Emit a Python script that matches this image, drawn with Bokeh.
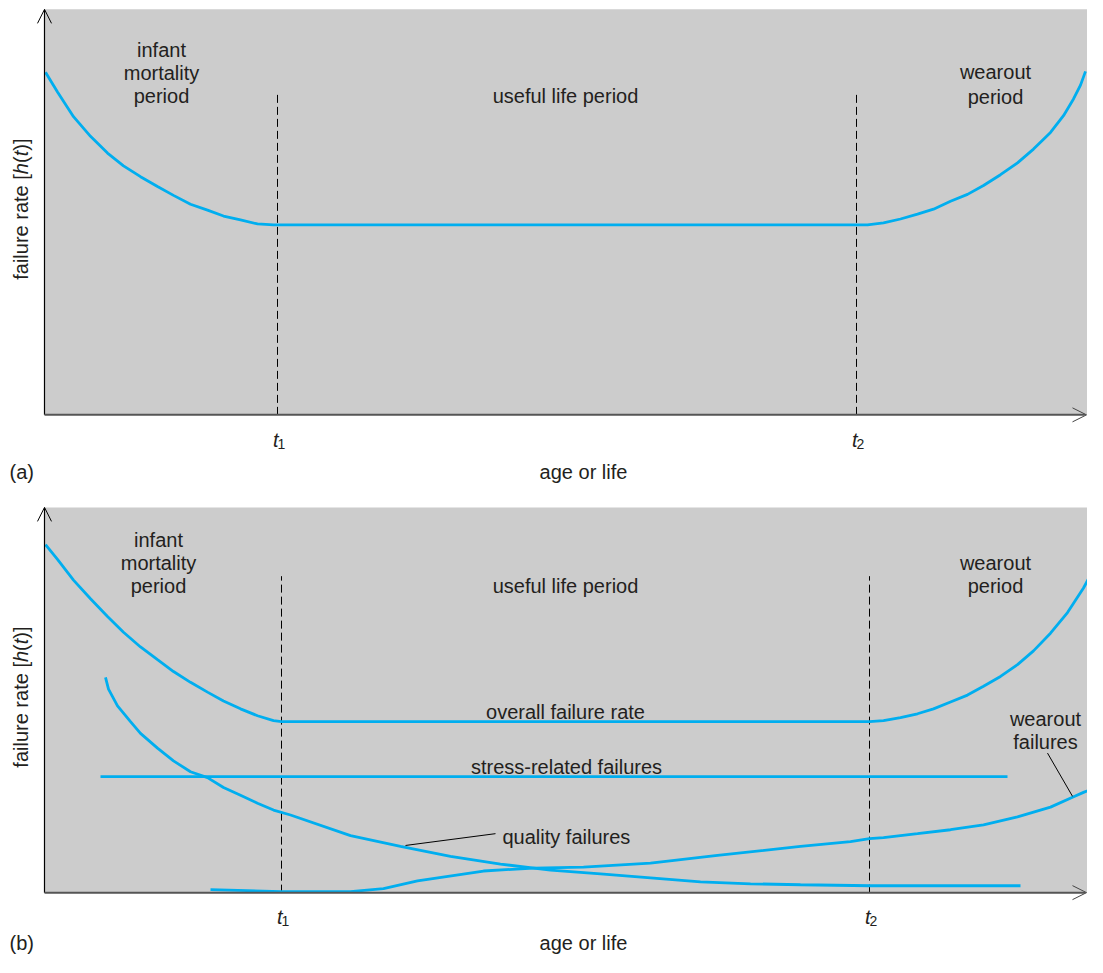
import math
from bokeh.plotting import figure
from bokeh.models import Arrow, OpenHead, Label, BoxAnnotation
from bokeh.layouts import column
from bokeh.embed import file_html
from bokeh.resources import INLINE

# ---------------- data (arbitrary units: age vs failure rate) ----------------
# Panel (a): bathtub curve
a_x = [1, 13, 29, 46, 63, 79, 96, 113, 129, 146, 163, 179, 196, 213, 229,
       812, 823, 839, 856, 873, 889, 906, 923, 939, 956, 973, 989, 1006, 1019, 1029, 1036, 1041]
a_y = [348, 328, 303, 283, 266, 253, 242, 232, 223, 214, 208, 202, 198, 194, 193,
       193, 193, 195, 199, 204, 209, 217, 224, 233, 244, 256, 270, 287, 304, 321, 335, 349]
a_t = [233, 812]          # t1, t2
a_ymax = 412

# Panel (b): overall curve and its components
b_overall_x = [1, 13, 29, 46, 63, 79, 96, 113, 129, 146, 163, 179, 196, 213, 229, 237,
               825, 839, 856, 873, 889, 906, 923, 939, 956, 973, 989, 1006, 1023, 1039, 1049, 1058]
b_overall_y = [354, 339, 318, 299, 281, 265, 250, 237, 225, 214, 204, 195, 187, 180, 175, 174,
               174, 175, 178, 182, 187, 194, 201, 210, 220, 232, 246, 264, 285, 310, 329, 345]
b_stress_x = [56, 963]
b_stress_y = [118, 118]
b_quality_x = [61, 64, 73, 86, 96, 113, 129, 146, 163, 179, 196, 213, 229, 246,
               306, 356, 406, 456, 506, 556, 606, 656, 706, 756, 826, 976]
b_quality_y = [219, 207, 190, 174, 162, 147, 134, 123, 117, 107, 99, 91, 84, 79,
               58, 47, 37, 29, 23, 19, 15, 11, 9, 8, 7, 7]
b_wear_x = [166, 237, 306, 339, 373, 439, 489, 539, 606, 673, 756, 806, 825, 839, 873,
            906, 939, 973, 1006, 1028, 1039, 1059]
b_wear_y = [3, 1, 1, 4, 12, 22, 25, 26, 30, 38, 47, 52, 55, 56, 60,
            64, 69, 77, 87, 97, 102, 110]
b_t = [237, 825]
b_ymax = 392

BLUE = "#00aeef"
GREY = "#cccccc"
TXT = "#231f20"
FONT = "Liberation Sans"
FS = "20px"
XMAX = 1042


def base_fig(height, y_range):
    p = figure(width=1087, height=height, x_range=(-44, 1043), y_range=y_range,
               output_backend="svg", toolbar_location=None, min_border=0)
    p.xaxis.visible = False
    p.yaxis.visible = False
    p.grid.visible = False
    p.outline_line_color = None
    p.background_fill_color = "white"
    p.border_fill_color = "white"
    return p


def add_frame(p, ymax):
    p.add_layout(BoxAnnotation(left=0, bottom=0, top=ymax,
                               fill_color=GREY, fill_alpha=1, line_color=None, level="underlay"))
    p.add_layout(Arrow(end=OpenHead(size=14, line_color="black", line_width=1),
                       x_start=0, y_start=0, x_end=0, y_end=ymax,
                       line_color="black", line_width=1.2))
    p.add_layout(Arrow(end=OpenHead(size=14, line_color="#444444", line_width=1),
                       x_start=0, y_start=0, x_end=XMAX, y_end=0,
                       line_color="#555555", line_width=2))


def txt(p, x, y, s, align="center", size=FS, style="normal", baseline="alphabetic", angle=0):
    p.add_layout(Label(x=x, y=y, text=s, text_align=align, text_baseline=baseline,
                       text_font=FONT, text_font_size=size, text_font_style=style,
                       text_color=TXT, angle=angle))


def tlabel(p, x, y, sub):
    txt(p, x + 1, y, "t", align="right", style="italic")
    txt(p, x, y - 4, sub, align="left", size="14px")


def ylabel(p, yc, k):
    # "failure rate [h(t)]" with italic h and t, read bottom-to-top
    pieces = [("failure rate [", "normal", 105.6), ("h", "italic", 11.1),
              ("(", "normal", 6.7), ("t", "italic", 5.6), (")]", "normal", 12.2)]
    total = sum(w for _, _, w in pieces)
    y = yc - total / 2 * k
    for s, st, w in pieces:
        txt(p, -24, y, s, align="left", style=st, baseline="middle", angle=math.pi / 2)
        y += w * k


# ---------------- panel (a) ----------------
pa = base_fig(500, (-87, 421))
add_frame(pa, a_ymax)
pa.segment(x0=a_t, y0=[0, 0], x1=a_t, y1=[328, 328], line_color="black",
           line_width=1, line_dash="8 4")
pa.line(a_x, a_y, line_color=BLUE, line_width=2.8)
txt(pa, 117, 371, "infant")
txt(pa, 117, 347, "mortality")
txt(pa, 117, 324, "period")
txt(pa, 521, 324, "useful life period")
txt(pa, 951, 348, "wearout")
txt(pa, 951, 323, "period")
tlabel(pa, a_t[0], -26, "1")
tlabel(pa, a_t[1], -26, "2")
txt(pa, 539, -58, "age or life")
txt(pa, -35, -58, "(a)", align="left")
ylabel(pa, 209, 508 / 500)

# ---------------- panel (b) ----------------
pb = base_fig(457, (-66, 399))
add_frame(pb, b_ymax)
pb.segment(x0=b_t, y0=[0, 0], x1=b_t, y1=[322, 322], line_color="black",
           line_width=1, line_dash="8 4")
pb.line(b_overall_x, b_overall_y, line_color=BLUE, line_width=2.8)
pb.line(b_stress_x, b_stress_y, line_color=BLUE, line_width=2.8)
pb.line(b_quality_x, b_quality_y, line_color=BLUE, line_width=2.8)
pb.line(b_wear_x, b_wear_y, line_color=BLUE, line_width=2.8)
# leader lines
pb.line([361, 451], [48, 60], line_color="black", line_width=1)
pb.line([1003, 1028], [142, 98], line_color="black", line_width=1)
txt(pb, 114, 359, "infant")
txt(pb, 114, 335, "mortality")
txt(pb, 114, 312, "period")
txt(pb, 521, 312, "useful life period")
txt(pb, 951, 335, "wearout")
txt(pb, 951, 312, "period")
txt(pb, 521, 184, "overall failure rate")
txt(pb, 522, 128, "stress-related failures")
txt(pb, 458, 57, "quality failures", align="left")
txt(pb, 1001, 177, "wearout")
txt(pb, 1001, 153, "failures")
tlabel(pb, b_t[0], -25, "1")
tlabel(pb, b_t[1], -25, "2")
txt(pb, 539, -51, "age or life")
txt(pb, -35, -51, "(b)", align="left")
ylabel(pb, 199, 465 / 457)

layout = column(pa, pb, spacing=0)
open("out.html", "w").write(file_html(layout, INLINE))
